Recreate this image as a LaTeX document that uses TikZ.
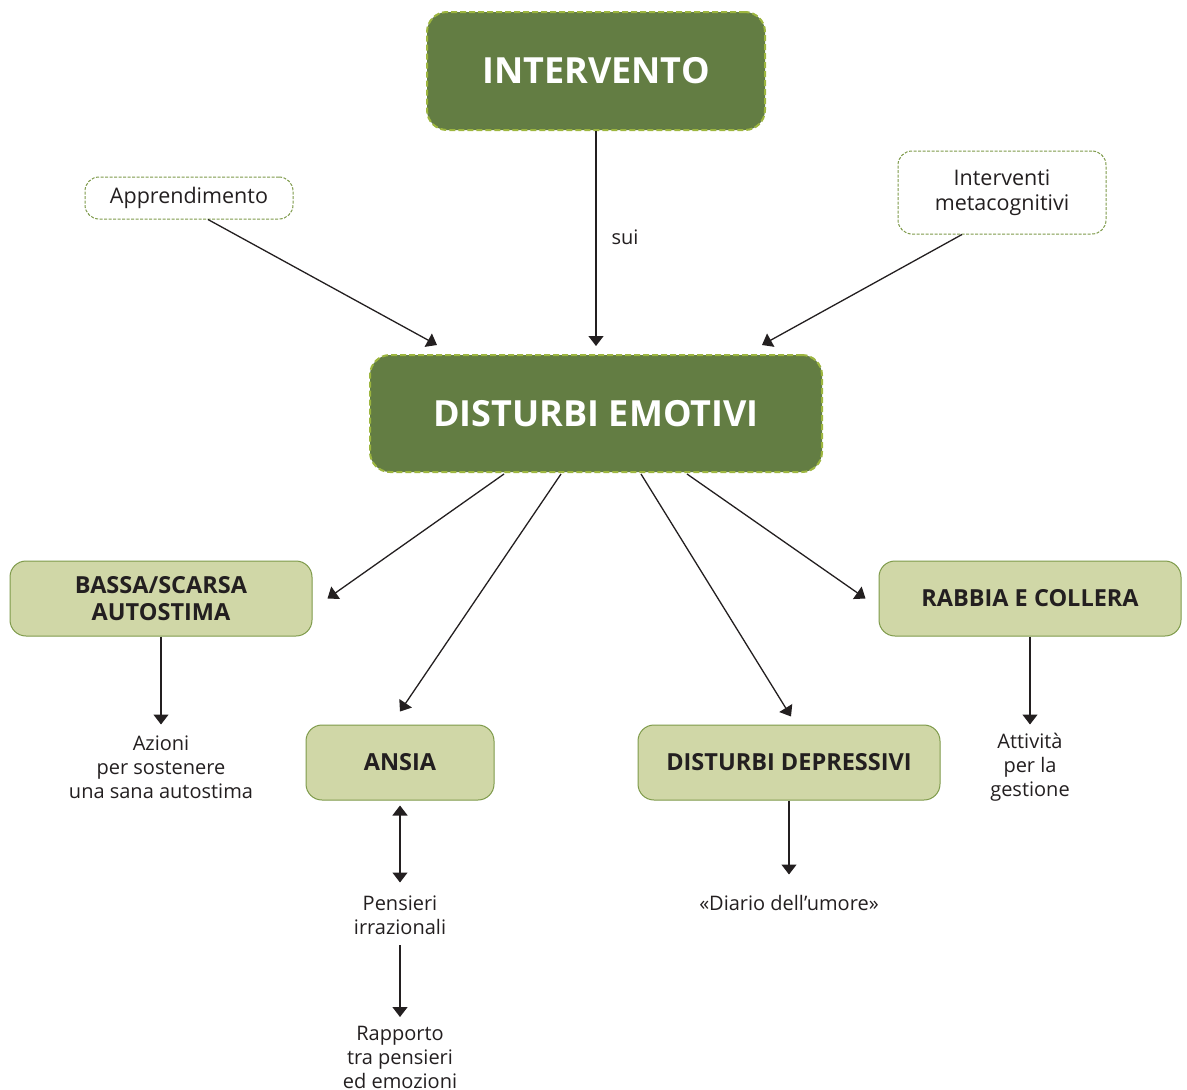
\documentclass[tikz,border=0pt]{standalone}
\usepackage{fontspec}
\setmainfont{Open Sans}
\usetikzlibrary{arrows.meta}
\definecolor{darkg}{HTML}{637D43}
\definecolor{dashg}{HTML}{9DB63F}
\definecolor{lightg}{HTML}{D0D7A7}
\definecolor{lightb}{HTML}{7E9A4A}
\definecolor{txt}{HTML}{231F20}
\tikzset{
  bigbox/.style={draw=dashg, fill=darkg, line width=2pt, dash pattern=on 6pt off 3pt, rounded corners=20pt, text=white, font=\bfseries\fontsize{36}{42}\selectfont, inner sep=0pt},
  notebox/.style={draw=lightb, fill=white, line width=1pt, dash pattern=on 3pt off 1.5pt, rounded corners=14pt, text=txt, font=\fontsize{21.5}{25}\selectfont, align=center, inner sep=0pt},
  catbox/.style={draw=lightb, fill=lightg, line width=1pt, rounded corners=16pt, text=txt, font=\bfseries\fontsize{23.5}{27}\selectfont, align=center, inner sep=0pt},
  plain/.style={text=txt, font=\fontsize{20}{24}\selectfont, align=center, inner sep=0pt},
  arr/.style={draw=txt, line width=1.3pt, -{Triangle[length=10pt,width=15pt]}},
  darr/.style={draw=txt, line width=1.3pt, {Triangle[length=10pt,width=15pt]}-{Triangle[length=10pt,width=15pt]}}
}
\begin{document}
\begin{tikzpicture}[x=1pt,y=-1pt]
\useasboundingbox (0,0) rectangle (1187,1090);
\node[bigbox, minimum width=338pt, minimum height=118pt] (interv) at (596,71) {INTERVENTO};
\node[bigbox, minimum width=452pt, minimum height=117pt] (dist) at (596,413.5) {DISTURBI EMOTIVI};
\node[notebox, minimum width=208pt, minimum height=42pt] (appr) at (189,198) {Apprendimento};
\node[notebox, minimum width=208pt, minimum height=83pt] (meta) at (1002,192.5) {Interventi\\metacognitivi};
\node[catbox, minimum width=302pt, minimum height=75pt] (bassa) at (161,598.5) {BASSA/SCARSA\\AUTOSTIMA};
\node[catbox, minimum width=188pt, minimum height=75pt] (ansia) at (400,762.5) {ANSIA};
\node[catbox, minimum width=302pt, minimum height=75pt] (depr) at (789,762.5) {DISTURBI DEPRESSIVI};
\node[catbox, minimum width=302pt, minimum height=75pt] (rabbia) at (1030,598.5) {RABBIA E COLLERA};
\node[plain] (azioni) at (161,767) {Azioni\\per sostenere\\una sana autostima};
\node[plain] (pens) at (400,915) {Pensieri\\irrazionali};
\node[plain] (diario) at (789,903) {«Diario dell’umore»};
\node[plain] (rapp) at (400,1057) {Rapporto\\tra pensieri\\ed emozioni};
\node[plain] (attiv) at (1030,767) {Attività\\per la\\gestione};
\node[plain] (sui) at (625,237) {sui};
% top arrows
\draw[arr] (interv.south) -- ([yshift=8pt]dist.north);
\draw[arr] ([xshift=19pt]appr.south) -- ([xshift=-159pt,yshift=9pt]dist.north);
\draw[arr] ([xshift=-40pt]meta.south) -- ([xshift=166pt,yshift=9pt]dist.north);
% from disturbi
\draw[arr] ([xshift=-92pt,yshift=-1pt]dist.south) -- ([xshift=15pt]bassa.east);
\draw[arr] ([xshift=-35pt,yshift=-1pt]dist.south) -- ([yshift=13pt]ansia.north);
\draw[arr] ([xshift=45pt,yshift=-1pt]dist.south) -- ([xshift=2pt,yshift=8pt]depr.north);
\draw[arr] ([xshift=91pt,yshift=-1pt]dist.south) -- ([xshift=-13pt]rabbia.west);
% lower arrows
\draw[arr] (bassa.south) -- ([yshift=-88pt]bassa.south);
\draw[arr] (rabbia.south) -- ([yshift=-88pt]rabbia.south);
\draw[arr] (depr.south) -- ([yshift=-74pt]depr.south);
\draw[darr] ([yshift=-5pt]ansia.south) -- ([yshift=-82pt]ansia.south);
\draw[arr] ([yshift=-30pt]pens.center) -- ([yshift=-102pt]pens.center);
\end{tikzpicture}
\end{document}
